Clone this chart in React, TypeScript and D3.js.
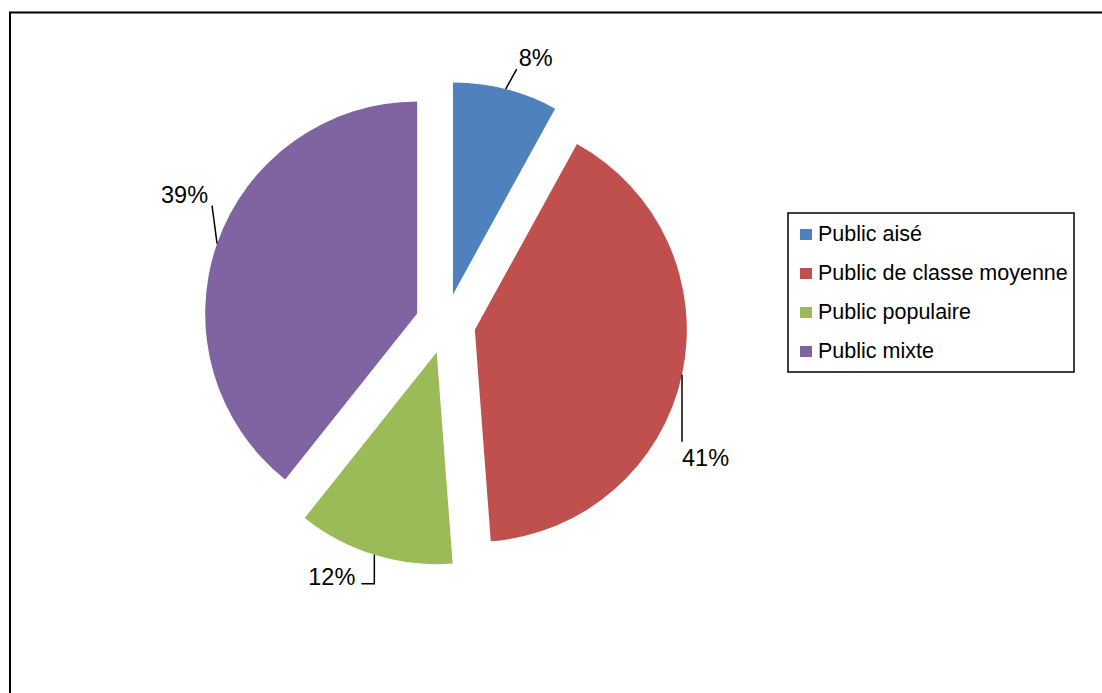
import * as d3 from 'd3'

// ─── Data ─────────────────────────────────────────────────────────────────────

const categories = ['Public aisé', 'Public de classe moyenne', 'Public populaire', 'Public mixte']
// shares (labels show them rounded)
const values = [8.0, 40.8, 11.9, 39.3]
const colors = ['#4F81BD', '#C0504D', '#9BBB59', '#8064A2']

// ─── Layout ───────────────────────────────────────────────────────────────────

const W = 1102
const H = 693
const CENTER = { x: 445.5, y: 323.5 }
const RADIUS = 212
const EXPLODE = 30
const FONT = '"Liberation Sans", Arial, sans-serif'

// leader elbows (relative to arc edge point) and text anchor per slice
const LEADERS: { pts: [number, number][]; text: [number, number]; anchor: string }[] = [
  { pts: [[11, -20]], text: [13, -23], anchor: 'start' },
  { pts: [[0, 67]], text: [0, 91], anchor: 'start' },
  { pts: [[0, 29], [-13, 29]], text: [-19, 30], anchor: 'end' },
  { pts: [[-5, -38]], text: [-9, -41], anchor: 'end' },
]

const LEGEND = { x: 788, y: 213, w: 286, h: 159 }

export default function App() {
  const total = d3.sum(values)
  const pie = d3.pie<number>().sort(null).value((d) => d)
  const arcs = pie(values)
  const arc = d3.arc<d3.PieArcDatum<number>>().innerRadius(0).outerRadius(RADIUS)
  const edge = d3.arc<d3.PieArcDatum<number>>().innerRadius(RADIUS).outerRadius(RADIUS)

  const legendY = d3.scalePoint<string>()
    .domain(categories)
    .range([LEGEND.y + 28, LEGEND.y + 145])

  return (
    <div style={{ position: 'fixed', left: 0, top: 0, width: W, height: H, background: '#fff' }}>
      <svg width={W} height={H} style={{ display: 'block' }}>
        <rect x={0} y={0} width={W} height={H} fill="#fff" />
        {/* chart frame */}
        <rect x={10} y={12.5} width={W + 20} height={H + 20} fill="none" stroke="#000" strokeWidth={2} />

        <g transform={`translate(${CENTER.x},${CENTER.y})`}>
          {arcs.map((a, i) => {
            const mid = (a.startAngle + a.endAngle) / 2
            const ox = Math.sin(mid) * EXPLODE
            const oy = -Math.cos(mid) * EXPLODE
            const [ex, ey] = edge.centroid(a)
            const L = LEADERS[i]
            const pts = [[ex, ey], ...L.pts.map(([dx, dy]) => [ex + dx, ey + dy])]
            return (
              <g key={categories[i]} transform={`translate(${ox},${oy})`}>
                <path d={arc(a) ?? ''} fill={colors[i]} />
                <path
                  d={d3.line()(pts as [number, number][]) ?? ''}
                  fill="none"
                  stroke="#000"
                  strokeWidth={1.5}
                />
                <text
                  x={ex + L.text[0]}
                  y={ey + L.text[1]}
                  textAnchor={L.anchor}
                  fontFamily={FONT}
                  fontSize={23.5}
                  fill="#000"
                >
                  {`${Math.round((values[i] / total) * 100)}%`}
                </text>
              </g>
            )
          })}
        </g>

        {/* legend */}
        <rect
          x={LEGEND.x}
          y={LEGEND.y}
          width={LEGEND.w}
          height={LEGEND.h}
          fill="#fff"
          stroke="#000"
          strokeWidth={1.5}
        />
        {categories.map((c, i) => {
          const y = legendY(c) ?? 0
          return (
            <g key={c}>
              <rect x={800} y={y - 12} width={12} height={11} fill={colors[i]} />
              <text x={818} y={y} fontFamily={FONT} fontSize={21.5} fill="#000">
                {c}
              </text>
            </g>
          )
        })}
      </svg>
    </div>
  )
}
